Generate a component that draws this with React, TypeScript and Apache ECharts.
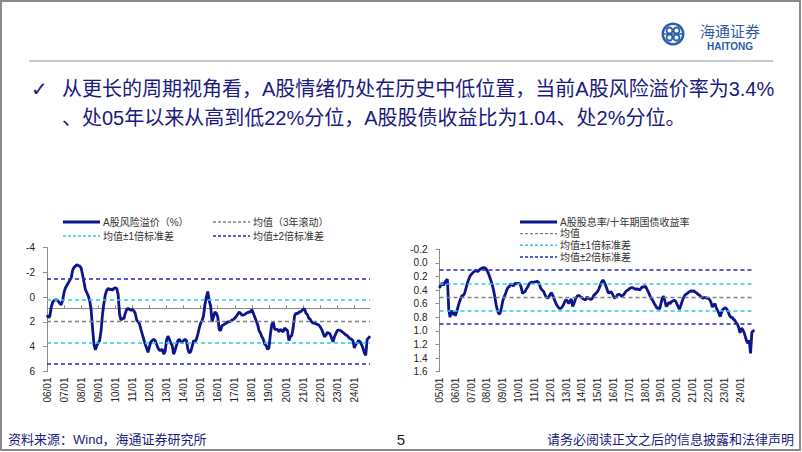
import React, { useEffect, useRef } from 'react';
import * as echarts from 'echarts';

// ---------- data ----------
const leftStartYear = 2006;
const rightStartYear = 2005;
const endYear = 2024;

// A股风险溢价（%）, monthly 2006-01 .. 2024-12
const riskPremium = [
  1.45, 1.65, 1.55, 0.8, 0.4, 0.28, 0.22, 0.22, 0.35, 0.5, 0.62, 0.25,
  -0.4, -0.75, -0.95, -1.15, -1.35, -1.55, -2.15, -2.4, -2.5, -2.6, -2.55, -2.5,
  -2.35, -1.8, -1.2, -0.6, -0.35, -0.1, 0.3, 1.0, 2.5, 3.8, 4.25, 3.9,
  3.7, 3.5, 2.7, 1.4, 0.5, -0.2, -0.55, -0.7, -0.6, -0.65, -0.55, -0.7,
  -0.75, -0.7, -0.2, 1.4, 1.85, 1.7, 1.75, 1.3, 1.0, 0.9, 1.0, 1.05,
  1.0, 1.1, 1.3, 1.85, 2.0, 2.15, 2.6, 3.0, 3.4, 3.8, 4.1, 4.45,
  4.0, 3.6, 3.5, 3.4, 3.5, 3.8, 4.1, 4.3, 4.3, 4.2, 4.6, 4.4,
  3.5, 3.15, 3.4, 3.7, 3.9, 4.6, 4.3, 3.9, 3.5, 3.4, 3.6, 3.65,
  3.5, 3.4, 3.5, 4.2, 4.5, 4.4, 4.0, 3.5, 3.6, 3.4, 3.0, 2.5,
  2.1, 1.9, 1.5, 0.6, 0.0, -0.45, 0.3, 0.7, 2.0, 1.6, 1.2, 1.3,
  1.6, 2.6, 2.7, 2.3, 2.25, 2.15, 2.1, 2.0, 2.0, 1.95, 1.85, 1.8,
  1.7, 1.55, 1.4, 1.2, 1.3, 1.45, 1.45, 1.4, 1.3, 1.25, 1.2, 1.2,
  1.0, 1.3, 1.6, 1.9, 2.2, 2.7, 2.9, 3.2, 3.4, 3.8, 3.9, 4.2,
  4.1, 3.0, 2.2, 2.0, 2.6, 2.6, 2.6, 2.8, 2.6, 2.7, 2.8, 2.5,
  2.6, 2.7, 3.5, 3.2, 3.1, 2.5, 1.5, 1.3, 1.35, 1.2, 1.2, 1.1,
  1.0, 0.95, 1.3, 1.4, 1.7, 1.8, 2.0, 2.1, 2.1, 2.15, 2.2, 2.25,
  2.4, 2.6, 2.9, 3.2, 3.1, 2.85, 2.9, 3.0, 3.3, 3.6, 3.2, 2.95,
  2.7, 2.65, 2.7, 2.75, 2.85, 2.95, 3.05, 3.1, 3.25, 3.35, 3.4, 3.5,
  4.1, 3.8, 3.7, 3.5, 3.6, 3.8, 4.1, 4.5, 4.7, 3.4, 3.3, 3.15,
];
const riskMean = [1.95];
const riskSd1 = [0.25, 3.65];
const riskSd2 = [-1.45, 5.35];
const riskAxisCross = 0.9;
const riskAxis = { min: -4, max: 6, interval: 2 };

// A股股息率/十年期国债收益率, monthly 2005-01 .. 2024-12
const dividendRatio = [
  0.37, 0.32, 0.3, 0.33, 0.29, 0.26, 0.24, 0.68, 0.8, 0.7, 0.76, 0.72,
  0.78, 0.72, 0.65, 0.58, 0.53, 0.48, 0.48, 0.45, 0.38, 0.31, 0.25, 0.2,
  0.17, 0.15, 0.13, 0.12, 0.11, 0.13, 0.11, 0.09, 0.08, 0.07, 0.07, 0.08,
  0.11, 0.15, 0.2, 0.26, 0.32, 0.4, 0.5, 0.62, 0.7, 0.75, 0.74, 0.66,
  0.56, 0.5, 0.46, 0.4, 0.36, 0.35, 0.31, 0.32, 0.34, 0.3, 0.31, 0.3,
  0.3, 0.31, 0.36, 0.45, 0.43, 0.42, 0.38, 0.35, 0.31, 0.29, 0.28, 0.29,
  0.28, 0.28, 0.27, 0.28, 0.33, 0.38, 0.4, 0.42, 0.47, 0.5, 0.52, 0.5,
  0.46, 0.44, 0.48, 0.53, 0.58, 0.62, 0.65, 0.67, 0.67, 0.65, 0.62, 0.57,
  0.54, 0.56, 0.6, 0.56, 0.53, 0.64, 0.6, 0.54, 0.5, 0.48, 0.48, 0.5,
  0.51, 0.53, 0.54, 0.54, 0.5, 0.52, 0.53, 0.54, 0.52, 0.48, 0.46, 0.44,
  0.42, 0.38, 0.33, 0.28, 0.25, 0.28, 0.33, 0.38, 0.44, 0.44, 0.42, 0.45,
  0.49, 0.52, 0.5, 0.47, 0.46, 0.47, 0.49, 0.48, 0.46, 0.43, 0.41, 0.4,
  0.38, 0.37, 0.36, 0.37, 0.38, 0.39, 0.38, 0.39, 0.4, 0.37, 0.35, 0.36,
  0.34, 0.37, 0.41, 0.45, 0.5, 0.53, 0.56, 0.6, 0.63, 0.67, 0.66, 0.68,
  0.6, 0.52, 0.49, 0.56, 0.64, 0.62, 0.58, 0.6, 0.57, 0.56, 0.55, 0.56,
  0.6, 0.64, 0.68, 0.63, 0.57, 0.52, 0.48, 0.46, 0.45, 0.43, 0.42, 0.41,
  0.42, 0.41, 0.43, 0.44, 0.46, 0.47, 0.49, 0.51, 0.52, 0.51, 0.51, 0.52,
  0.52, 0.54, 0.58, 0.65, 0.62, 0.6, 0.66, 0.7, 0.74, 0.79, 0.73, 0.68,
  0.67, 0.66, 0.68, 0.72, 0.77, 0.8, 0.8, 0.83, 0.84, 0.88, 0.9, 0.95,
  1.03, 0.96, 0.98, 1.02, 1.08, 1.15, 1.18, 1.14, 1.33, 1.02, 1.0, 0.99,
];
const ratioMean = [0.5];
const ratioSd1 = [0.3, 0.7];
const ratioSd2 = [0.1, 0.9];
const ratioAxis = { min: -0.2, max: 1.6, interval: 0.2 };

const leftLegend = ['A股风险溢价（%）', '均值（3年滚动）', '均值±1倍标准差', '均值±2倍标准差'];
const rightLegend = ['A股股息率/十年期国债收益率', '均值', '均值±1倍标准差', '均值±2倍标准差'];

const titleLine1 = '从更长的周期视角看，A股情绪仍处在历史中低位置，当前A股风险溢价率为3.4%';
const titleLine2 = '、处05年以来从高到低22%分位，A股股债收益比为1.04、处2%分位。';
const sourceText = '资料来源：Wind，海通证券研究所';
const disclaimerText = '请务必阅读正文之后的信息披露和法律声明';
const pageNumber = '5';

// ---------- styles ----------
const FONT = '"Liberation Sans", "Noto Sans CJK SC", sans-serif';
const NAVY = '#0c168a';
const BLUE = '#2424c8';
const CYAN = '#2fc6ec';
const GRAY = '#808080';
const AXIS = '#8c8c8c';
const TEXT = '#1a1a80';
const LOGO = '#2a5ea8';
const DASH: number[] = [4, 3];
const LEG_DASH: number[] = [3, 2];

function months(startYear: number, lastYear: number): string[] {
  const out: string[] = [];
  for (let y = startYear; y <= lastYear; y++) {
    for (let m = 1; m <= 12; m++) out.push(`${y}-${String(m).padStart(2, '0')}`);
  }
  return out;
}

const isJan = (_i: number, v: string) => String(v).endsWith('-01');
const fmtCat = (v: string) => `${String(v).slice(2, 4)}/01`;

function bandLines(vals: number[], color: string) {
  return vals.map((v) => ({ yAxis: v, lineStyle: { color, type: DASH, width: 1.5 } }));
}

function legendItems(labels: string[], styles: any[], positions: number[][]) {
  const els: any[] = [];
  labels.forEach((label, i) => {
    const [x, y] = positions[i];
    const s = styles[i];
    els.push({
      type: 'line',
      shape: { x1: x, y1: y, x2: x + 37, y2: y },
      style: { stroke: s.color, lineWidth: s.width, lineDash: s.dash || null },
      silent: true,
    });
    els.push({
      type: 'text',
      x: x + 40,
      y,
      style: { text: label, font: `10px ${FONT}`, fill: '#333', verticalAlign: 'middle', align: 'left' },
      silent: true,
    });
  });
  return els;
}

export default function App() {
  const ref = useRef<HTMLDivElement>(null);

  useEffect(() => {
    if (!ref.current) return;
    const chart = echarts.init(ref.current, null, { renderer: 'svg' });
    const leftCats = months(leftStartYear, endYear);
    const rightCats = months(rightStartYear, endYear);

    const solid = { color: NAVY, width: 3 };
    const gDash = { color: GRAY, width: 1.3, dash: LEG_DASH };
    const cDash = { color: CYAN, width: 1.5, dash: LEG_DASH };
    const bDash = { color: BLUE, width: 1.5, dash: LEG_DASH };

    const catAxisBase = (gridIndex: number, data: string[]) => ({
      gridIndex,
      type: 'category',
      data,
      boundaryGap: false,
      axisLine: { show: false, onZero: false },
      axisTick: { show: false },
      splitLine: { show: false },
      axisLabel: {
        interval: isJan,
        rotate: 90,
        formatter: fmtCat,
        fontSize: 10,
        fontFamily: FONT,
        color: '#222',
        margin: 6,
      },
    });

    const mainLine = { color: NAVY, width: 2.8 };

    const option: any = {
      animation: false,
      backgroundColor: '#ffffff',
      grid: [
        { left: 47, top: 247.5, width: 323, height: 124 },
        { left: 439.5, top: 249.3, width: 315, height: 122.4 },
      ],
      xAxis: [
        catAxisBase(0, leftCats),
        {
          gridIndex: 0,
          type: 'category',
          data: leftCats,
          boundaryGap: false,
          position: 'bottom',
          axisLine: { show: true, onZero: true, onZeroAxisIndex: 1, lineStyle: { color: AXIS, width: 1 } },
          axisTick: { show: true, inside: true, length: 3, interval: isJan, lineStyle: { color: AXIS } },
          axisLabel: { show: false },
          splitLine: { show: false },
        },
        catAxisBase(1, rightCats),
      ],
      yAxis: [
        {
          gridIndex: 0,
          type: 'value',
          inverse: true,
          min: riskAxis.min,
          max: riskAxis.max,
          interval: riskAxis.interval,
          axisLine: { show: true, lineStyle: { color: AXIS } },
          axisTick: { show: true, length: 4, lineStyle: { color: AXIS } },
          axisLabel: { fontSize: 10, fontFamily: FONT, color: '#222', margin: 12 },
          splitLine: { show: false },
        },
        {
          gridIndex: 0,
          type: 'value',
          inverse: true,
          position: 'left',
          min: riskAxis.min - riskAxisCross,
          max: riskAxis.max - riskAxisCross,
          axisLine: { show: false },
          axisTick: { show: false },
          axisLabel: { show: false },
          splitLine: { show: false },
        },
        {
          gridIndex: 1,
          type: 'value',
          inverse: true,
          min: ratioAxis.min,
          max: ratioAxis.max,
          interval: ratioAxis.interval,
          axisLine: { show: true, lineStyle: { color: AXIS } },
          axisTick: { show: true, length: 4, lineStyle: { color: AXIS } },
          axisLabel: {
            fontSize: 10,
            fontFamily: FONT,
            color: '#222',
            margin: 12,
            formatter: (v: number) => v.toFixed(1),
          },
          splitLine: { show: false },
        },
      ],
      series: [
        {
          name: leftLegend[0],
          type: 'line',
          xAxisIndex: 0,
          yAxisIndex: 0,
          data: riskPremium,
          symbol: 'none',
          lineStyle: mainLine,
          itemStyle: { color: NAVY },
          markLine: {
            silent: true,
            symbol: ['none', 'none'],
            label: { show: false },
            data: [
              ...bandLines(riskSd2, BLUE),
              ...bandLines(riskSd1, CYAN),
              ...riskMean.map((v) => ({ yAxis: v, lineStyle: { color: GRAY, type: DASH, width: 1.3 } })),
            ],
          },
        },
        {
          name: rightLegend[0],
          type: 'line',
          xAxisIndex: 2,
          yAxisIndex: 2,
          data: dividendRatio,
          symbol: 'none',
          lineStyle: mainLine,
          itemStyle: { color: NAVY },
          markLine: {
            silent: true,
            symbol: ['none', 'none'],
            label: { show: false },
            data: [
              ...bandLines(ratioSd2, BLUE),
              ...bandLines(ratioSd1, CYAN),
              ...ratioMean.map((v) => ({ yAxis: v, lineStyle: { color: GRAY, type: DASH, width: 1.3 } })),
            ],
          },
        },
      ],
      graphic: [
        // slide frame
        {
          type: 'rect',
          shape: { x: 1, y: 1, width: 799, height: 449 },
          style: { fill: 'none', stroke: '#8a8a8a', lineWidth: 2 },
          silent: true,
        },
        // header rule
        {
          type: 'line',
          shape: { x1: 29, y1: 61, x2: 773, y2: 61 },
          style: { stroke: '#8a97a8', lineWidth: 1 },
          silent: true,
        },
        // logo
        {
          type: 'group',
          silent: true,
          children: [
            { type: 'ring', shape: { cx: 673, cy: 34, r: 11.5, r0: 9 }, style: { fill: LOGO } },
            { type: 'circle', shape: { cx: 669.5, cy: 30.5, r: 3 }, style: { fill: 'none', stroke: LOGO, lineWidth: 1.8 } },
            { type: 'circle', shape: { cx: 676.5, cy: 30.5, r: 3 }, style: { fill: 'none', stroke: LOGO, lineWidth: 1.8 } },
            { type: 'circle', shape: { cx: 669.5, cy: 37.5, r: 3 }, style: { fill: 'none', stroke: LOGO, lineWidth: 1.8 } },
            { type: 'circle', shape: { cx: 676.5, cy: 37.5, r: 3 }, style: { fill: 'none', stroke: LOGO, lineWidth: 1.8 } },
            { type: 'line', shape: { x1: 664, y1: 34, x2: 682, y2: 34 }, style: { stroke: LOGO, lineWidth: 1.5 } },
            {
              type: 'text',
              x: 700,
              y: 30,
              style: { text: '海通证券', font: `15px "Noto Sans CJK SC", sans-serif`, fill: LOGO, verticalAlign: 'middle' },
            },
            {
              type: 'text',
              x: 707,
              y: 46.5,
              style: { text: 'HAITONG', font: `bold 10px "Liberation Sans", sans-serif`, fill: LOGO, verticalAlign: 'middle' },
            },
          ],
        },
        // title
        {
          type: 'text',
          x: 31,
          y: 89,
          silent: true,
          style: { text: '✓', font: `bold 20px "DejaVu Sans", sans-serif`, fill: TEXT, verticalAlign: 'middle' },
        },
        {
          type: 'text',
          x: 62,
          y: 89,
          silent: true,
          style: { text: titleLine1, font: `20px ${FONT}`, fill: TEXT, verticalAlign: 'middle' },
        },
        {
          type: 'text',
          x: 62,
          y: 118,
          silent: true,
          style: { text: titleLine2, font: `20px ${FONT}`, fill: TEXT, verticalAlign: 'middle' },
        },
        // legends
        ...legendItems(leftLegend, [solid, gDash, cDash, bDash], [
          [63, 222],
          [213, 222],
          [63, 236],
          [213, 236],
        ]),
        ...legendItems(rightLegend, [solid, gDash, cDash, bDash], [
          [520, 222],
          [520, 233.7],
          [520, 245.3],
          [520, 257],
        ]),
        // footer
        {
          type: 'text',
          x: 8,
          y: 439,
          silent: true,
          style: { text: sourceText, font: `13px ${FONT}`, fill: TEXT, verticalAlign: 'middle' },
        },
        {
          type: 'text',
          x: 401,
          y: 439,
          silent: true,
          style: { text: pageNumber, font: `15px ${FONT}`, fill: '#222', verticalAlign: 'middle', align: 'center' },
        },
        {
          type: 'text',
          x: 794,
          y: 439,
          silent: true,
          style: { text: disclaimerText, font: `13px ${FONT}`, fill: TEXT, verticalAlign: 'middle', align: 'right' },
        },
      ],
    };

    chart.setOption(option);
    return () => chart.dispose();
  }, []);

  return (
    <div
      ref={ref}
      style={{ position: 'absolute', left: 0, top: 0, width: 802, height: 452, background: '#fff' }}
    />
  );
}
